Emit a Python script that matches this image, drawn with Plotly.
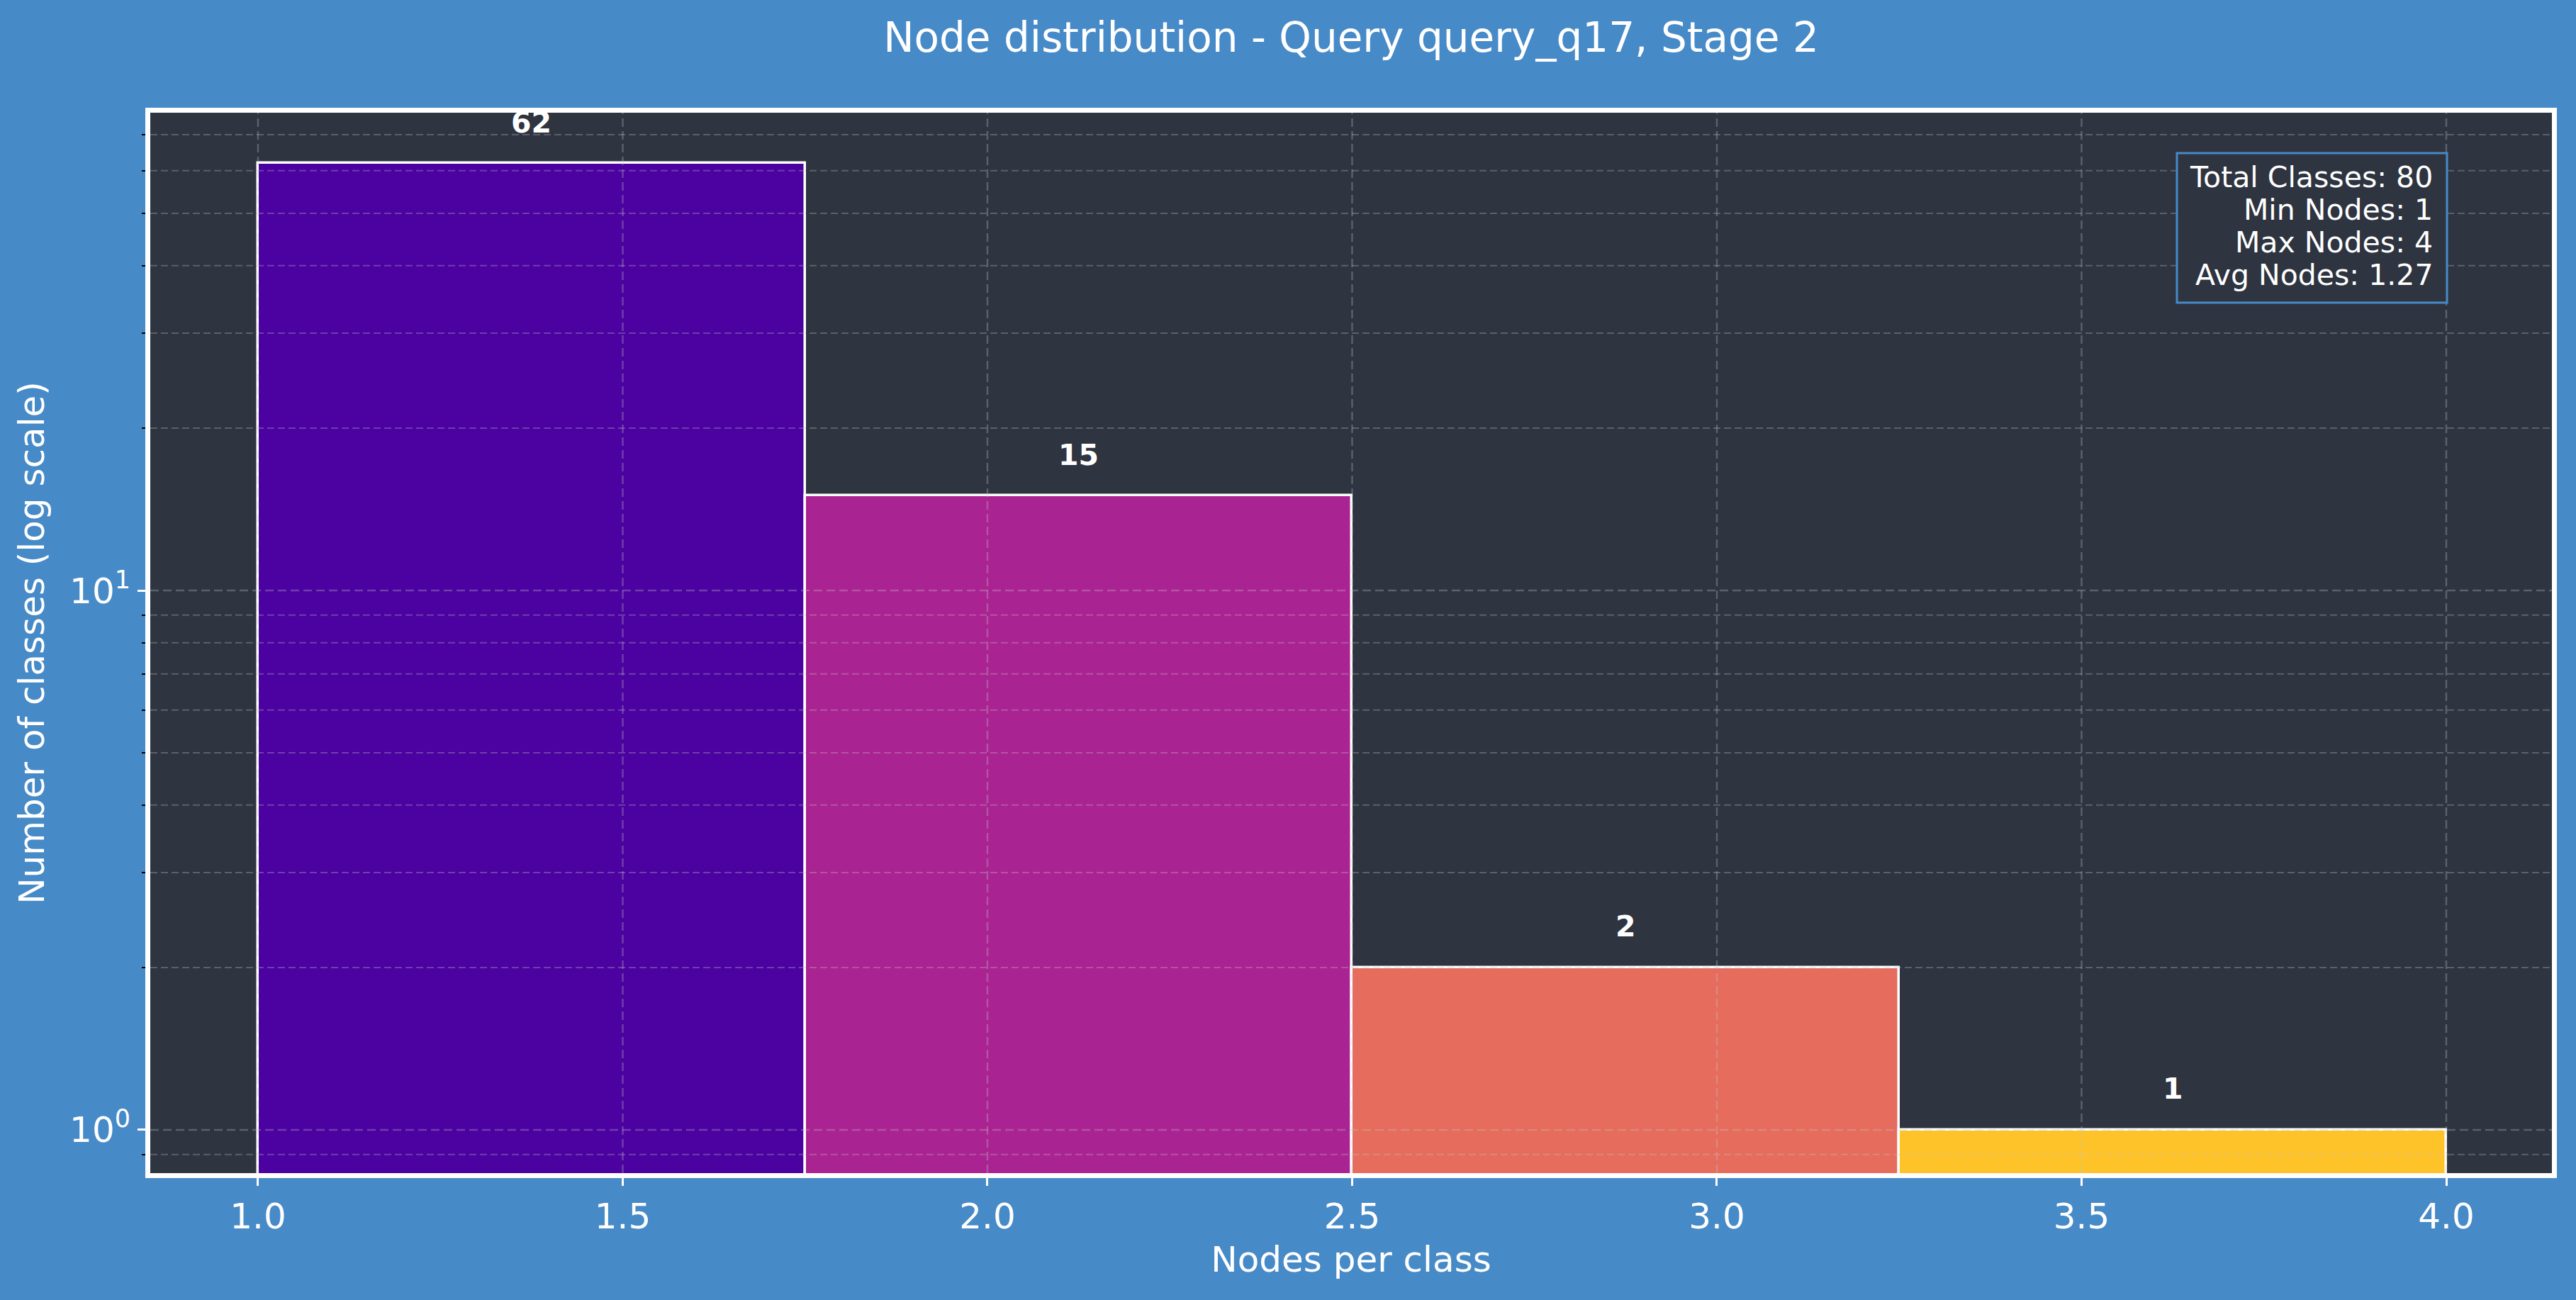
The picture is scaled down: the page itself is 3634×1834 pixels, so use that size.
import math
import plotly.graph_objects as go

# ---- data ----
bin_edges = [1.0, 1.75, 2.5, 3.25, 4.0]
counts = [62, 15, 2, 1]
bar_colors = ["#4B02A0", "#AA2392", "#E66C5D", "#FDC328"]
x_tick_vals = [1.0, 1.5, 2.0, 2.5, 3.0, 3.5, 4.0]
x_tick_text = ["1.0", "1.5", "2.0", "2.5", "3.0", "3.5", "4.0"]
y_major_vals = [1, 10]
y_major_text = ["10<sup>0</sup>", "10<sup>1</sup>"]
y_minor_vals = [0.9, 2, 3, 4, 5, 6, 7, 8, 9, 20, 30, 40, 50, 60, 70]
stats_lines = ["Total Classes: 80", "Min Nodes: 1", "Max Nodes: 4", "Avg Nodes: 1.27"]
title_text = "Node distribution - Query query_q17, Stage 2"
x_label = "Nodes per class"
y_label = "Number of classes (log scale)"

# ---- styling ----
PAPER = "#478AC8"
PLOTBG = "#2E3440"
FONT = "DejaVu Sans"
GRID = "rgba(200,200,200,0.30)"
W, H = 3634, 1834
ML, MR, MT, MB = 212, 34, 159, 179
PW, PH = W - ML - MR, H - MT - MB


def px_x(px):
    return (px - ML) / PW


def px_y(py):
    return (H - MB - py) / PH


centers = [(a + b) / 2 for a, b in zip(bin_edges[:-1], bin_edges[1:])]
widths = [b - a for a, b in zip(bin_edges[:-1], bin_edges[1:])]

fig = go.Figure()
fig.add_trace(go.Bar(
    x=centers, y=counts, width=widths,
    marker=dict(color=bar_colors, line=dict(color="white", width=3.5)),
    hoverinfo="x+y", showlegend=False,
))

# grid lines drawn above bars (like matplotlib)
shapes = []
for xv in x_tick_vals:
    shapes.append(dict(type="line", xref="x", yref="paper", x0=xv, x1=xv, y0=0, y1=1,
                       line=dict(color=GRID, width=2.5, dash="12px,6px"), layer="above"))
for yv in y_major_vals:
    shapes.append(dict(type="line", xref="paper", yref="y", x0=0, x1=1, y0=yv, y1=yv,
                       line=dict(color=GRID, width=2.5, dash="12px,6px"), layer="above"))
for yv in y_minor_vals:
    shapes.append(dict(type="line", xref="paper", yref="y", x0=0, x1=1, y0=yv, y1=yv,
                       line=dict(color=GRID, width=2, dash="10px,5px"), layer="above"))
# stats box
shapes.append(dict(type="rect", xref="paper", yref="paper",
                   x0=px_x(3071), x1=px_x(3452), y0=px_y(427), y1=px_y(216),
                   fillcolor=PLOTBG, line=dict(color=PAPER, width=3), layer="above"))

annotations = []
for c, v in zip(centers, counts):
    annotations.append(dict(x=c, y=math.log10(v * 1.1), xref="x", yref="y",
                            text=f"<b>{v}</b>", showarrow=False, xanchor="center",
                            yanchor="bottom", font=dict(family=FONT, size=41, color="white")))
line_centers_px = [250, 296, 342, 388]
for txt, cy in zip(stats_lines, line_centers_px):
    annotations.append(dict(x=px_x(3434), y=px_y(cy), xref="paper", yref="paper",
                            text=txt, showarrow=False, align="right",
                            xanchor="right", yanchor="middle",
                            font=dict(family=FONT, size=41, color="white")))

fig.update_layout(
    width=W, height=H,
    paper_bgcolor=PAPER, plot_bgcolor=PLOTBG,
    margin=dict(l=ML, r=MR, t=MT, b=MB),
    font=dict(family=FONT, color="white"),
    title=dict(text=title_text, x=0.5, xref="paper", xanchor="center",
               y=1 - 53 / H, yref="container", yanchor="middle",
               font=dict(family=FONT, size=58, color="white")),
    shapes=shapes, annotations=annotations,
    bargap=0,
)
fig.update_xaxes(
    range=[0.8523, 4.1448], tickvals=x_tick_vals, ticktext=x_tick_text,
    showgrid=False, zeroline=False,
    showline=True, linecolor="white", linewidth=7, mirror=True,
    ticks="outside", ticklen=11, tickwidth=2.5, tickcolor="white",
    tickfont=dict(family=FONT, size=50, color="white"),
    title=dict(text=x_label, font=dict(family=FONT, size=50, color="white"), standoff=17),
)
fig.update_yaxes(
    type="log", range=[-0.0802, 1.8857],
    tickvals=y_major_vals, ticktext=y_major_text,
    showgrid=False, zeroline=False,
    showline=True, linecolor="white", linewidth=7, mirror=True,
    ticks="outside", ticklen=11, tickwidth=2.5, tickcolor="white",
    tickfont=dict(family=FONT, size=50, color="white"),
    minor=dict(tickvals=y_minor_vals, ticks="outside", ticklen=5, tickwidth=2,
               tickcolor="black", showgrid=False),
    title=dict(text=y_label, font=dict(family=FONT, size=50, color="white"), standoff=22),
)

fig.write_html("out.html", config={"displayModeBar": False},
               post_script="document.body.style.margin='0';")
